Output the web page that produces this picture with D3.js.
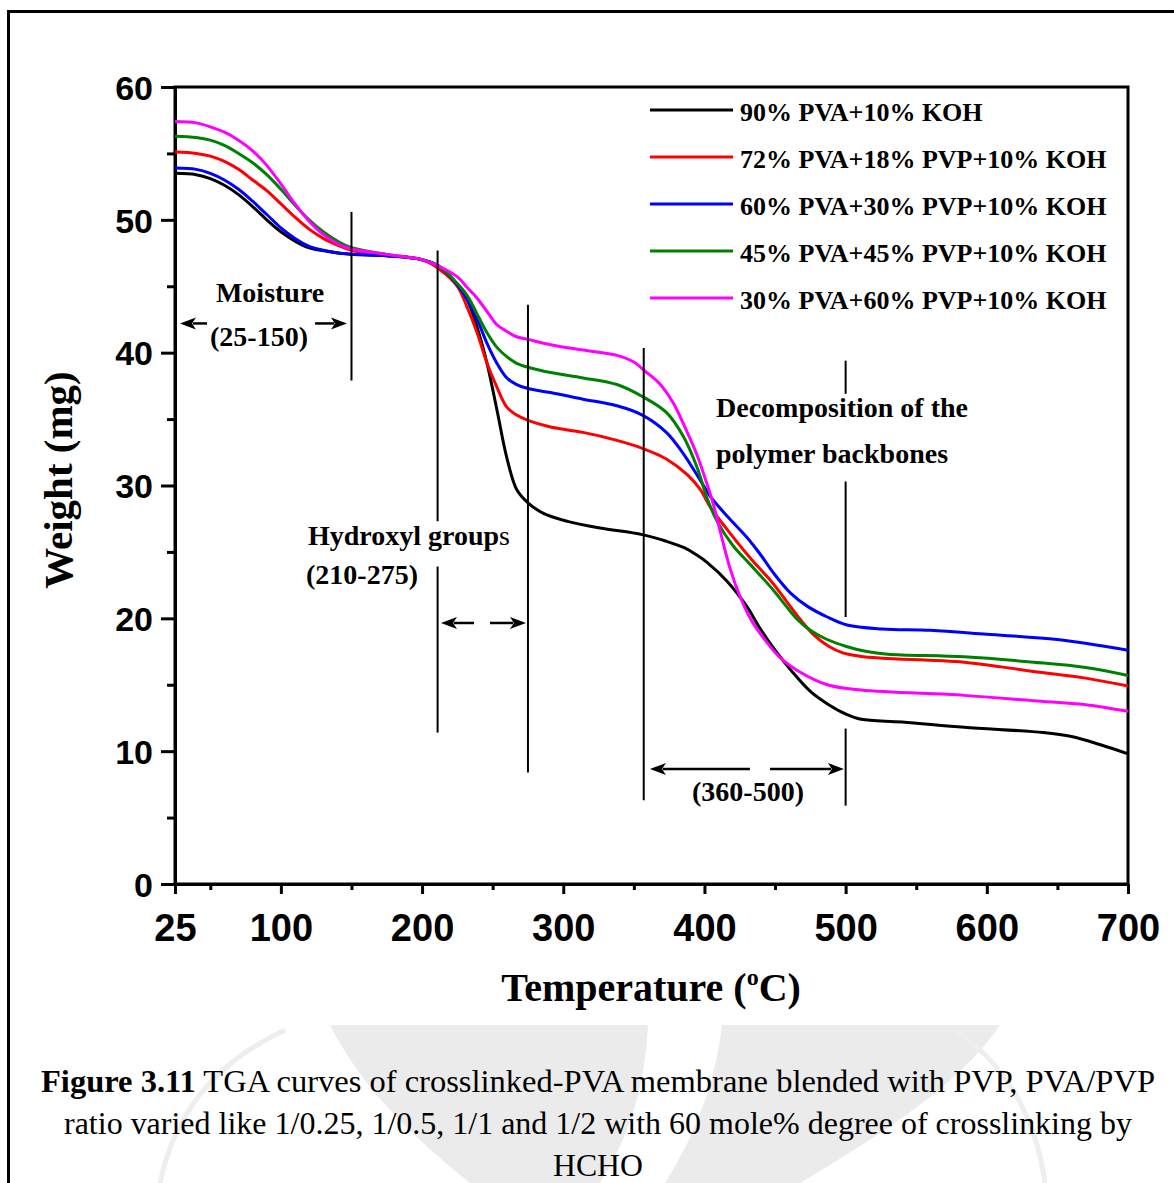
<!DOCTYPE html>
<html><head><meta charset="utf-8">
<script src="https://cdn.jsdelivr.net/npm/d3@7/dist/d3.min.js"></script>
<style>body{margin:0;background:#fff}svg{display:block}</style>
</head><body>
<svg id="chart" width="1174" height="1183"></svg>
<script>
// ---- data: [temperature °C, weight mg] ----
const seriesNames = ["90% PVA+10% KOH","72% PVA+18% PVP+10% KOH","60% PVA+30% PVP+10% KOH","45% PVA+45% PVP+10% KOH","30% PVA+60% PVP+10% KOH"];
const seriesColors = ["#000000","#ff0000","#0000ff","#008000","#ff00ff"];
const pva90 = [[25,53.5],[40,53.4],[50,53.1],[60,52.6],[70,51.9],[80,51.0],[90,50.0],[100,49.1],[110,48.4],[120,47.9],[135,47.6],[150,47.4],[175,47.3],[200,47.0],[212,46.5],[225,45.1],[232,44.0],[239,41.9],[246,39.2],[253,35.7],[260,32.1],[267,29.7],[275,28.7],[286,27.9],[303,27.3],[326,26.8],[356,26.3],[373,25.8],[386,25.3],[394,24.8],[402,24.2],[416,22.8],[430,20.9],[439,19.3],[450,17.6],[462,16.0],[475,14.5],[488,13.5],[500,12.8],[511,12.4],[540,12.2],[584,11.8],[640,11.4],[660,11.1],[680,10.5],[700,9.8]];
const pva72 = [[25,55.1],[40,55.0],[50,54.8],[60,54.4],[70,53.8],[80,53.0],[90,52.2],[100,51.2],[110,50.2],[120,49.3],[130,48.6],[140,48.1],[150,47.7],[175,47.3],[200,47.0],[212,46.3],[225,45.0],[232,43.4],[239,41.5],[246,39.2],[253,37.4],[260,35.9],[267,35.3],[275,34.9],[291,34.4],[314,34.0],[338,33.4],[356,32.8],[373,32.0],[388,30.8],[397,29.7],[404,28.4],[416,26.7],[432,24.6],[448,22.7],[458,21.3],[468,19.9],[478,18.7],[488,17.9],[498,17.4],[510,17.15],[526,17.0],[584,16.7],[633,16.0],[670,15.5],[700,14.9]];
const pva60 = [[25,53.9],[40,53.8],[50,53.5],[60,53.0],[70,52.3],[80,51.4],[90,50.4],[100,49.4],[110,48.6],[120,48.0],[135,47.6],[150,47.4],[175,47.3],[200,47.0],[212,46.5],[225,45.1],[232,44.0],[239,42.5],[246,40.7],[253,39.2],[260,38.1],[267,37.6],[275,37.3],[291,37.0],[314,36.5],[338,36.0],[356,35.3],[373,34.0],[385,32.4],[397,30.4],[404,29.2],[416,27.7],[430,26.1],[439,24.9],[449,23.4],[461,21.9],[473,20.9],[487,20.1],[501,19.5],[526,19.2],[560,19.1],[600,18.8],[650,18.4],[700,17.6]];
const pva45 = [[25,56.3],[40,56.2],[50,56.0],[60,55.6],[70,55.0],[80,54.3],[90,53.4],[100,52.3],[110,51.1],[120,50.0],[130,49.1],[140,48.4],[150,47.9],[175,47.4],[200,47.0],[212,46.5],[225,45.2],[232,44.3],[239,42.9],[246,41.5],[253,40.4],[260,39.7],[267,39.2],[275,38.9],[291,38.5],[314,38.1],[338,37.6],[356,36.7],[373,35.5],[385,33.7],[395,31.3],[402,29.0],[409,27.3],[420,25.5],[432,24.1],[449,22.1],[458,20.9],[466,19.9],[475,19.1],[485,18.5],[500,17.9],[515,17.5],[530,17.3],[584,17.1],[633,16.7],[670,16.3],[700,15.7]];
const pva30 = [[25,57.4],[40,57.3],[50,57.0],[60,56.6],[70,56.0],[80,55.2],[90,54.1],[100,52.7],[110,51.2],[120,49.9],[130,48.9],[140,48.2],[150,47.8],[175,47.4],[200,47.0],[212,46.5],[225,45.7],[232,44.9],[239,44.1],[246,43.1],[253,42.1],[260,41.6],[267,41.2],[275,41.0],[291,40.6],[314,40.2],[338,39.8],[350,39.3],[358,38.6],[368,37.7],[378,36.2],[387,34.2],[394,32.5],[400,30.7],[406,28.7],[412,26.2],[418,23.8],[425,21.7],[433,19.9],[442,18.5],[453,17.1],[467,16.0],[487,15.0],[511,14.6],[584,14.2],[633,13.8],[670,13.5],[700,13.0]];
const allSeries = [pva90, pva72, pva60, pva45, pva30];

const xMajorTicks = [25,100,200,300,400,500,600,700];
const xMinorTicks = [50,150,250,350,450,550,650];
const yMajorTicks = [0,10,20,30,40,50,60];
const yMinorTicks = [5,15,25,35,45,55];

// annotation markers (data units): vertical lines [T, [[wTop,wBottom],...]]
const markerLines = [
  [150, [[50.6,37.9]]],
  [211, [[47.7,27.3],[23.9,11.4]]],
  [275, [[43.6,8.4]]],
  [357, [[40.35,6.3]]],
  [500, [[39.4,36.9],[30.3,20.1],[11.7,5.9]]]
];
// arrows: [tipT, tailT, weight]
const arrows = [[28.5,47.7,42.2],[146.8,124.2,42.2],[213.4,236.8,19.65],[273.6,248.1,19.65],[361.4,432.2,8.66],[498.8,446.4,8.66]];
// notes: [text, startT, baselineWeight]
const notes = [
  ["Moisture",54,43.8],["(25-150)",49.8,40.5],
  ["Hydroxyl group",119.2,25.5],["(210-275)",117.8,22.6],
  ["Decomposition of the",408.2,35.16],["polymer backbones",408.2,31.7],
  ["(360-500)",391.2,6.25]
];

const svg = d3.select("#chart");
const x = d3.scaleLinear().domain([25,700]).range([175,1128]);
const y = d3.scaleLinear().domain([0,60]).range([884,87]);

// watermark (faint logo behind caption)
const wm = svg.append("g").attr("fill","#ebebeb").attr("stroke","none");
wm.append("path").attr("d","M330,1025 L648,1025 C645,1085 630,1135 600,1183 L470,1183 C410,1135 360,1085 330,1025 Z");
wm.append("path").attr("d","M722,1025 L1000,1025 C960,1085 880,1135 800,1183 L665,1183 C695,1135 715,1085 722,1025 Z");
svg.append("path").attr("d","M160,1183 C175,1110 220,1060 285,1030").attr("fill","none").attr("stroke","#eeeeee").attr("stroke-width",5);
svg.append("path").attr("d","M1045,1183 C1035,1110 1000,1060 955,1030").attr("fill","none").attr("stroke","#eeeeee").attr("stroke-width",5);

// outer frame
svg.append("path").attr("d","M8.5,1183 L8.5,11.5 L1174,11.5").attr("fill","none").attr("stroke","#000").attr("stroke-width",3);

// plot box
svg.append("rect").attr("x",175).attr("y",87).attr("width",953).attr("height",797)
  .attr("fill","none").attr("stroke","#000").attr("stroke-width",3);

// axes
const xAxis = svg.append("g").attr("transform","translate(0,884)")
  .call(d3.axisBottom(x).tickValues(xMajorTicks).tickSize(10).tickSizeOuter(0).tickPadding(20).tickFormat(d3.format("d")));
const xAxisMinor = svg.append("g").attr("transform","translate(0,884)")
  .call(d3.axisBottom(x).tickValues(xMinorTicks).tickSize(6).tickSizeOuter(0).tickFormat(""));
const yAxis = svg.append("g").attr("transform","translate(175,0)")
  .call(d3.axisLeft(y).tickValues(yMajorTicks).tickSize(14).tickSizeOuter(0).tickPadding(8).tickFormat(d3.format("d")));
const yAxisMinor = svg.append("g").attr("transform","translate(175,0)")
  .call(d3.axisLeft(y).tickValues(yMinorTicks).tickSize(8).tickSizeOuter(0).tickFormat(""));
[xAxis,xAxisMinor,yAxis,yAxisMinor].forEach(g=>{
  g.select(".domain").attr("stroke","#000").attr("stroke-width",3);
  g.selectAll(".tick line").attr("stroke","#000").attr("stroke-width",3);
  g.selectAll("text").attr("fill","#000").attr("font-family","'Liberation Sans', Arial, sans-serif").attr("font-weight","bold");
});
xAxis.selectAll("text").attr("font-size",38).attr("dy","0.71em");
yAxis.selectAll("text").attr("font-size",34).attr("dy","0.36em");

// axis titles
const serif = "'Liberation Serif','Times New Roman',serif";
svg.append("text").attr("transform","translate(72,480) rotate(-90)").attr("text-anchor","middle")
  .attr("font-family",serif).attr("font-weight","bold").attr("font-size",41).text("Weight (mg)");
const xt = svg.append("text").attr("x",651).attr("y",1001).attr("text-anchor","middle")
  .attr("font-family",serif).attr("font-weight","bold").attr("font-size",40);
xt.append("tspan").text("Temperature (");
xt.append("tspan").attr("font-size",24).attr("dy",-16).text("o");
xt.append("tspan").attr("dy",16).text("C)");

// curves
const line = d3.line().x(d=>x(d[0])).y(d=>y(d[1])).curve(d3.curveCatmullRom.alpha(0.5));
svg.append("g").selectAll("path").data(allSeries).join("path")
  .attr("d",line).attr("fill","none").attr("stroke",(d,i)=>seriesColors[i]).attr("stroke-width",3)
  .attr("stroke-linejoin","round");

// legend
const lg = svg.append("g");
seriesNames.forEach((n,i)=>{
  const yy = 110 + i*47;
  lg.append("line").attr("x1",650).attr("x2",733).attr("y1",yy).attr("y2",yy).attr("stroke",seriesColors[i]).attr("stroke-width",3);
  lg.append("text").attr("x",740).attr("y",yy+11).attr("font-family",serif).attr("font-weight","bold").attr("font-size",26).attr("fill","#000").text(n);
});

// marker lines
markerLines.forEach(([t,segs])=>{
  segs.forEach(([a,b])=>{
    svg.append("line").attr("x1",x(t)).attr("x2",x(t)).attr("y1",y(a)).attr("y2",y(b)).attr("stroke","#000").attr("stroke-width",2);
  });
});
// arrows
arrows.forEach(([tip,tail,w])=>{
  const x0=x(tip), x1=x(tail), yy=y(w), dir = Math.sign(x1-x0);
  const hl=16, hw=6;
  svg.append("line").attr("x1",x0+dir*hl*0.8).attr("x2",x1).attr("y1",yy).attr("y2",yy).attr("stroke","#000").attr("stroke-width",2.5);
  svg.append("path").attr("d",`M${x0},${yy} L${x0+dir*hl},${yy-hw} L${x0+dir*hl*0.75},${yy} L${x0+dir*hl},${yy+hw} Z`).attr("fill","#000");
});
// notes
notes.forEach(([s,t,w])=>{
  const tx = svg.append("text").attr("x",x(t)).attr("y",y(w)).attr("font-family",serif).attr("font-weight","bold").attr("font-size",28).attr("fill","#000");
  tx.append("tspan").text(s);
  if (s==="Hydroxyl group") tx.append("tspan").attr("font-weight","normal").text("s");
});

// caption
const cap = svg.append("g").attr("font-family",serif).attr("font-size",31).attr("fill","#000").attr("text-anchor","middle");
const c1 = cap.append("text").attr("x",598).attr("y",1092).attr("textLength",1114).attr("lengthAdjust","spacingAndGlyphs");
c1.append("tspan").attr("font-weight","bold").text("Figure 3.11");
c1.append("tspan").text(" TGA curves of crosslinked-PVA membrane blended with PVP, PVA/PVP");
cap.append("text").attr("x",598).attr("y",1134).attr("textLength",1068).attr("lengthAdjust","spacingAndGlyphs")
  .text("ratio varied like 1/0.25, 1/0.5, 1/1 and 1/2 with 60 mole% degree of crosslinking by");
cap.append("text").attr("x",598).attr("y",1176).attr("textLength",90).attr("lengthAdjust","spacingAndGlyphs").text("HCHO");
</script>
</body></html>
